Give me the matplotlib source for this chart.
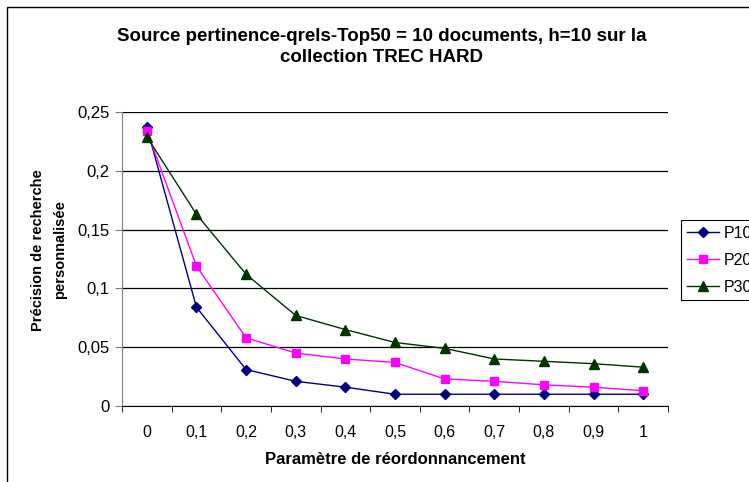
import numpy as np
import matplotlib.pyplot as plt
from matplotlib.patches import Rectangle

plt.rcParams['font.family'] = ['Liberation Sans', 'DejaVu Sans']

# data
params = ['0', '0,1', '0,2', '0,3', '0,4', '0,5', '0,6', '0,7', '0,8', '0,9', '1']
p10 = [0.237, 0.084, 0.031, 0.021, 0.016, 0.010, 0.010, 0.010, 0.010, 0.010, 0.010]
p20 = [0.234, 0.119, 0.058, 0.045, 0.040, 0.037, 0.023, 0.021, 0.018, 0.016, 0.013]
p30 = [0.229, 0.163, 0.112, 0.077, 0.065, 0.054, 0.049, 0.040, 0.038, 0.036, 0.033]
yticks = [0, 0.05, 0.1, 0.15, 0.2, 0.25]
ytick_labels = ['0', '0,05', '0,1', '0,15', '0,2', '0,25']

W, H = 749, 482
fig = plt.figure(figsize=(W / 100, H / 100), dpi=100)
ax = fig.add_axes([122 / W, 1 - 406 / H, (668 - 122) / W, (406 - 112) / H])

x = np.arange(len(params))
ax.plot(x, p10, color='#000080', lw=1, marker='D', ms=5, label='P10')
ax.plot(x, p20, color='#FF00FF', lw=1, marker='s', ms=6, label='P20')
ax.plot(x, p30, color='#003300', lw=1, marker='^', ms=7, label='P30')

ax.set_xlim(-0.5, len(params) - 0.5)
ax.set_ylim(0, 0.25)
ax.set_yticks(yticks)
ax.set_yticklabels(ytick_labels, fontsize=12)
ax.set_xticks(x)
ax.set_xticklabels(params, fontsize=11.5)
ax.tick_params(axis='x', length=0, pad=14)
ax.set_xticks(np.arange(-0.5, len(params)), minor=True)
ax.tick_params(axis='x', which='minor', length=4, direction='out', color='black')
ax.tick_params(axis='y', length=5, direction='out', color='#808080', pad=4)

ax.grid(axis='y', color='black', lw=0.9)
ax.set_axisbelow(True)
for s in ['top', 'right']:
    ax.spines[s].set_visible(False)
ax.spines['left'].set_color('#808080')
ax.spines['bottom'].set_color('black')

fig.text(395 / W, 1 - 460 / H, 'Paramètre de réordonnancement', ha='center', va='center',
         fontsize=12, fontweight='bold')
fig.text(49 / W, 1 - 250 / H, 'Précision de recherche\npersonnalisée', ha='center', va='center',
         rotation=90, fontsize=10.5, fontweight='bold', linespacing=1.7)

fig.text(382 / W, 1 - 47 / H, 'Source pertinence-qrels-Top50 = 10 documents, h=10 sur la\ncollection TREC HARD',
         ha='center', va='center', fontsize=13.5, fontweight='bold', linespacing=1.3)

leg = ax.legend(loc='upper left', bbox_to_anchor=(681 / W, 1 - 220 / H), bbox_transform=fig.transFigure,
                fontsize=11.5, frameon=True, fancybox=False, edgecolor='black', framealpha=1,
                borderaxespad=0, handlelength=2.05, handletextpad=0.3, labelspacing=0.75, borderpad=0.35)
leg.get_frame().set_linewidth(0.8)

fig.patches.append(Rectangle((7 / W, -0.1), 2, 1.1 - 7 / H, transform=fig.transFigure,
                             fill=False, edgecolor='black', lw=1))

fig.savefig('out.png', dpi=100)
